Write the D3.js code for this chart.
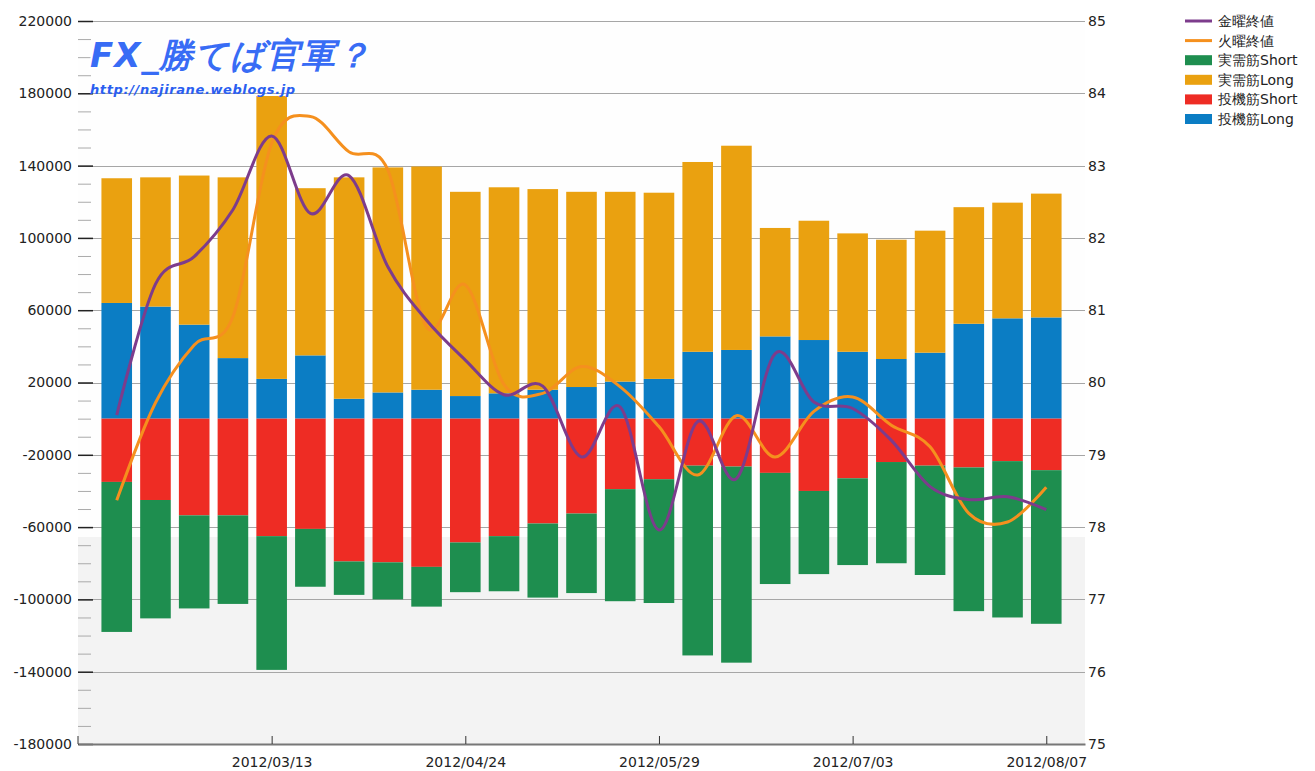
<!DOCTYPE html>
<html>
<head>
<meta charset="utf-8">
<script src="https://cdn.jsdelivr.net/npm/d3@7"></script>
<style>
  body { margin: 0; background: #fff; }
  text { font-family: "DejaVu Sans", sans-serif; }
</style>
</head>
<body>
<svg id="chart" width="1315" height="771"></svg>
<script>
// weekly categories (ticks only every 5th)
var dates = ["2012/02/14","2012/02/21","2012/02/28","2012/03/06","2012/03/13","2012/03/20","2012/03/27","2012/04/03","2012/04/10","2012/04/24",
  "2012/05/01","2012/05/08","2012/05/15","2012/05/22","2012/05/29","2012/06/05","2012/06/12","2012/06/19","2012/06/26","2012/07/03",
  "2012/07/10","2012/07/17","2012/07/24","2012/07/31","2012/08/07"];
var tickDates = ["2012/03/13","2012/04/24","2012/05/29","2012/07/03","2012/08/07"];

// 投機筋Long
var specLong = [64000,62000,52000,33500,22000,35000,11000,14500,16000,12500,14000,16000,17500,20500,22000,37000,38000,45500,43500,37000,33000,36500,52500,55500,56000];
// 実需筋Long
var realLong = [69000,71500,82500,100000,156500,92500,122500,124500,123500,113000,114000,111000,108000,105000,103000,105000,113000,60000,66000,65500,66000,67500,64500,64000,68500];
// 投機筋Short
var specShort = [-35000,-45000,-53500,-53500,-65000,-61000,-79000,-79500,-82000,-68500,-65000,-58000,-52500,-39000,-33500,-26000,-26500,-30000,-40000,-33000,-24000,-26000,-27000,-23500,-28500];
// 実需筋Short
var realShort = [-83000,-65500,-51500,-49000,-74000,-32000,-18500,-20500,-22000,-27500,-30500,-41000,-44000,-62000,-68500,-105000,-108500,-61500,-46000,-48000,-56000,-60500,-79500,-86500,-85000];
// 金曜終値 / 火曜終値 (right axis)
var friClose = [79.55,81.36,81.74,82.39,83.41,82.34,82.86,81.60,80.86,80.31,79.83,79.95,78.97,79.66,77.96,79.46,78.67,80.40,79.73,79.64,79.20,78.56,78.38,78.42,78.24];
var tueClose = [78.37,79.72,80.52,80.91,83.31,83.68,83.19,82.94,80.77,81.35,79.97,79.85,80.22,79.94,79.39,78.72,79.54,78.97,79.60,79.80,79.41,79.11,78.19,78.07,78.55];

var barKeys = ["specLong", "specShort", "realLong", "realShort"];
var barColor = { specLong: "#0b7dc4", specShort: "#ee2c24", realLong: "#eaa110", realShort: "#1e8e4f" };

function drawChart(svg) {
  var pL = 78, pR = 1085, pT = 21, pB = 744;

  var x = d3.scalePoint().domain(dates).range([pL, pR]).padding(1);
  var barW = x.step() * 0.79;
  var yL = d3.scaleLinear().domain([-180000, 220000]).range([pB, pT]);
  var yR = d3.scaleLinear().domain([75, 85]).range([pB, pT]);

  // background
  svg.append("rect").attr("x", pL).attr("y", pT).attr("width", pR - pL).attr("height", pB - pT).attr("fill", "#fefefe");
  svg.append("rect").attr("x", pL).attr("y", 537).attr("width", pR - pL).attr("height", pB - 537).attr("fill", "#f3f3f3");

  // grid
  svg.append("g").selectAll("line")
    .data(d3.range(-180000, 220001, 40000))
    .join("line")
    .attr("x1", pL).attr("x2", pR)
    .attr("y1", d => Math.round(yL(d)) + 0.5).attr("y2", d => Math.round(yL(d)) + 0.5)
    .attr("stroke", "#a6a6a6");

  // bars
  var rows = dates.map((d, i) => ({
    date: d, specLong: specLong[i], realLong: realLong[i], specShort: specShort[i], realShort: realShort[i]
  }));
  var series = d3.stack().keys(barKeys).offset(d3.stackOffsetDiverging)(rows);

  svg.append("g").selectAll("g")
    .data(series)
    .join("g")
    .attr("fill", s => barColor[s.key])
    .selectAll("rect")
    .data(s => s)
    .join("rect")
    .attr("x", d => x(d.data.date) - barW / 2)
    .attr("width", barW)
    .attr("y", d => yL(Math.max(d[0], d[1])))
    .attr("height", d => Math.abs(yL(d[0]) - yL(d[1])));

  // lines
  var line = d3.line()
    .x((d, i) => x(dates[i]))
    .y(d => yR(d))
    .curve(d3.curveCardinal.tension(0));

  svg.append("path").datum(tueClose)
    .attr("d", line).attr("fill", "none").attr("stroke", "#f5901e").attr("stroke-width", 3);
  svg.append("path").datum(friClose)
    .attr("d", line).attr("fill", "none").attr("stroke", "#7d3c8c").attr("stroke-width", 3);

  // left axis: minor ticks every 10000
  var minorVals = d3.range(-170000, 220000, 10000).filter(v => (v + 180000) % 40000 !== 0);
  var minor = svg.append("g").attr("transform", `translate(${pL},0)`)
    .call(d3.axisLeft(yL).tickValues(minorVals).tickSize(-13).tickFormat(""));
  minor.select(".domain").remove();
  minor.selectAll("line").attr("stroke", "#aaa");

  var yAxis = svg.append("g").attr("transform", `translate(${pL},0)`)
    .call(d3.axisLeft(yL).tickValues(d3.range(-180000, 220001, 40000)).tickSize(-15).tickPadding(6).tickFormat(d => String(d)));
  yAxis.select(".domain").remove();
  yAxis.selectAll("line").attr("stroke", "#222").attr("stroke-width", 1.5);
  yAxis.selectAll("text").attr("font-size", 14).attr("fill", "#222").attr("font-family", "DejaVu Sans");

  // right axis
  var rAxis = svg.append("g").attr("transform", `translate(${pR},0)`)
    .call(d3.axisRight(yR).ticks(10).tickSize(0).tickPadding(3));
  rAxis.select(".domain").remove();
  rAxis.selectAll("text").attr("font-size", 14).attr("fill", "#222").attr("font-family", "DejaVu Sans");

  // x axis
  var xAxis = svg.append("g").attr("transform", `translate(0,${pB})`)
    .call(d3.axisBottom(x).tickValues(tickDates).tickSizeInner(-8).tickSizeOuter(0).tickPadding(13));
  xAxis.select(".domain").attr("stroke", "#777").attr("stroke-width", 2);
  xAxis.selectAll("line").attr("stroke", "#333");
  xAxis.selectAll("text").attr("font-size", 14).attr("fill", "#222").attr("font-family", "DejaVu Sans");
  xAxis.append("line").attr("x1", pL).attr("x2", pL).attr("y1", 0).attr("y2", -8).attr("stroke", "#333");

  // title overlay
  svg.append("text")
    .attr("x", 90).attr("y", 67)
    .attr("font-family", "'Noto Sans CJK JP', sans-serif")
    .attr("font-size", 34).attr("font-weight", "900").attr("font-style", "italic")
    .attr("letter-spacing", 1)
    .attr("fill", "#386cf5").attr("stroke", "#fff").attr("stroke-width", 4)
    .attr("paint-order", "stroke")
    .text("FX_勝てば官軍？");
  svg.append("text")
    .attr("x", 90).attr("y", 94)
    .attr("font-family", "'DejaVu Sans Mono', monospace")
    .attr("font-size", 13).attr("font-weight", "bold").attr("font-style", "italic")
    .attr("letter-spacing", 0.6)
    .attr("fill", "#2a5ef0")
    .text("http://najirane.weblogs.jp");

  // legend
  var legendItems = [
    { name: "金曜終値", color: "#7d3c8c", type: "line" },
    { name: "火曜終値", color: "#f5901e", type: "line" },
    { name: "実需筋Short", color: barColor.realShort, type: "rect" },
    { name: "実需筋Long", color: barColor.realLong, type: "rect" },
    { name: "投機筋Short", color: barColor.specShort, type: "rect" },
    { name: "投機筋Long", color: barColor.specLong, type: "rect" }
  ];
  var legend = svg.append("g").attr("transform", "translate(1185,21)");
  var entry = legend.selectAll("g").data(legendItems).join("g")
    .attr("transform", (d, i) => `translate(0,${i * 19.6})`);
  entry.filter(d => d.type === "line").append("line")
    .attr("x1", 0).attr("x2", 27).attr("y1", 0).attr("y2", 0)
    .attr("stroke", d => d.color).attr("stroke-width", 3);
  entry.filter(d => d.type === "rect").append("rect")
    .attr("x", 0).attr("y", -5).attr("width", 27).attr("height", 10)
    .attr("fill", d => d.color);
  entry.append("text")
    .attr("x", 33).attr("y", 0).attr("dy", "0.36em")
    .attr("font-size", 14).attr("fill", "#222")
    .attr("font-family", "'Noto Sans CJK JP', 'DejaVu Sans', sans-serif")
    .text(d => d.name);
}

drawChart(d3.select("#chart"));
</script>
</body>
</html>
